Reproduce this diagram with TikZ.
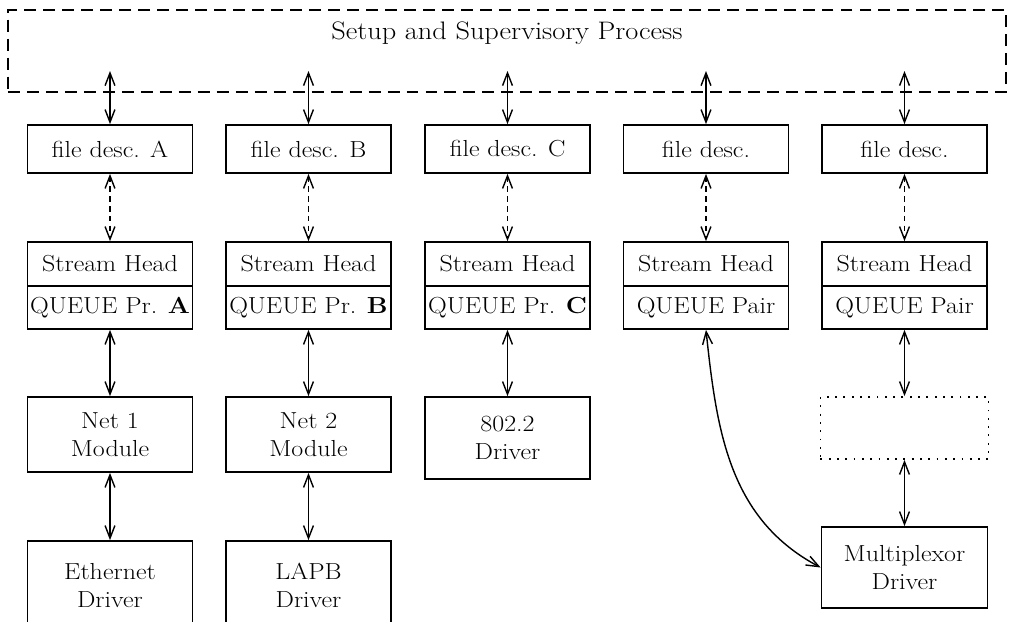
\documentclass[tikz,border=0pt]{standalone}
\usepackage{fontspec}
\setmainfont{Latin Modern Roman}[FakeStretch=1.12]
\usepackage{tikz}
\usetikzlibrary{arrows.meta, positioning}

\begin{document}
\begin{tikzpicture}[
    x=0.025cm, y=-0.025cm,
    every node/.style={font=\fontsize{16.5}{19.5}\selectfont},
    box/.style={draw, line width=1.2pt, minimum width=4.125cm, inner xsep=1pt, inner ysep=2pt, align=center},
    arr/.style={{Straight Barb[length=9pt, width=7pt]}-{Straight Barb[length=9pt, width=7pt]}, line width=1pt},
    darr/.style={arr, dash pattern=on 4pt off 3pt}
  ]
    \useasboundingbox (0,0) rectangle (1009,621);
    \clip (0,0) rectangle (1009,621);

    % supervisory process
    \node[draw, line width=1.1pt, dash pattern=on 8.5pt off 5pt,
          minimum width=24.95cm, minimum height=2.05cm,
          label={[anchor=north, yshift=-0.2cm, font=\fontsize{18}{21}\selectfont]north:Setup and Supervisory Process}]
      (setup) at (507,51) {};

    % file descriptors
    \node[box, minimum height=1.2cm] (fdA) at (110,149)   {file desc. A};
    \node[box, minimum height=1.2cm] (fdB) at (308.5,149) {file desc. B};
    \node[box, minimum height=1.2cm] (fdC) at (507.5,149) {file desc. C};
    \node[box, minimum height=1.2cm] (fdD) at (706,149)   {file desc.};
    \node[box, minimum height=1.2cm] (fdE) at (904.5,149) {file desc.};

    \coordinate (upA) at (110,71);
    \coordinate (upB) at (308.5,71);
    \coordinate (upC) at (507.5,71);
    \coordinate (upD) at (706,71);
    \coordinate (upE) at (904.5,71);

    % stream heads
    \node[box, minimum height=1.1cm] (headA) at (110,264)   {Stream Head};
    \node[box, minimum height=1.1cm] (headB) at (308.5,264) {Stream Head};
    \node[box, minimum height=1.1cm] (headC) at (507.5,264) {Stream Head};
    \node[box, minimum height=1.1cm] (headD) at (706,264)   {Stream Head};
    \node[box, minimum height=1.1cm] (headE) at (904.5,264) {Stream Head};

    \node[box, minimum height=1.075cm] (queueA) at (110,307.5)   {QUEUE Pr. \textbf{A}};
    \node[box, minimum height=1.075cm] (queueB) at (308.5,307.5) {QUEUE Pr. \textbf{B}};
    \node[box, minimum height=1.075cm] (queueC) at (507.5,307.5) {QUEUE Pr. \textbf{C}};
    \node[box, minimum height=1.075cm] (queueD) at (706,307.5)   {QUEUE Pair};
    \node[box, minimum height=1.075cm] (queueE) at (904.5,307.5) {QUEUE Pair};

    % modules and drivers
    \node[box, minimum height=1.875cm] (netA) at (110,434.5)   {Net 1\\Module};
    \node[box, minimum height=1.875cm] (netB) at (308.5,434.5) {Net 2\\Module};
    \node[box, minimum height=2.05cm]  (drvC) at (507.5,438)   {802.2\\Driver};
    \node[draw, line width=1.3pt, dash pattern=on 1.3pt off 4.6pt,
          minimum width=4.2cm, minimum height=1.55cm] (muxmod) at (904.5,428) {};

    \node[box, minimum height=2.225cm] (drvA) at (110,585.5)   {Ethernet\\Driver};
    \node[box, minimum height=2.225cm] (drvB) at (308.5,585.5) {LAPB\\Driver};
    \node[box, minimum width=4.15cm, minimum height=2.025cm] (mux) at (904.5,567.5) {Multiplexor\\Driver};

    % connections
    \draw[arr] (upA) -- (fdA.north);
    \draw[arr] (upB) -- (fdB.north);
    \draw[arr] (upC) -- (fdC.north);
    \draw[arr] (upD) -- (fdD.north);
    \draw[arr] (upE) -- (fdE.north);

    \draw[darr] (fdA.south) -- (headA.north);
    \draw[darr] (fdB.south) -- (headB.north);
    \draw[darr] (fdC.south) -- (headC.north);
    \draw[darr] (fdD.south) -- (headD.north);
    \draw[darr] (fdE.south) -- (headE.north);

    \draw[arr] (queueA.south) -- (netA.north);
    \draw[arr] (queueB.south) -- (netB.north);
    \draw[arr] (queueC.south) -- (drvC.north);
    \draw[arr] (queueE.south) -- (muxmod.north);
    \draw[arr] (netA.south) -- (drvA.north);
    \draw[arr] (netB.south) -- (drvB.north);
    \draw[arr] (muxmod.south) -- (mux.north);
    \draw[arr] (queueD.south) to[out=-84, in=152] (mux.west);
  \end{tikzpicture}
\end{document}
